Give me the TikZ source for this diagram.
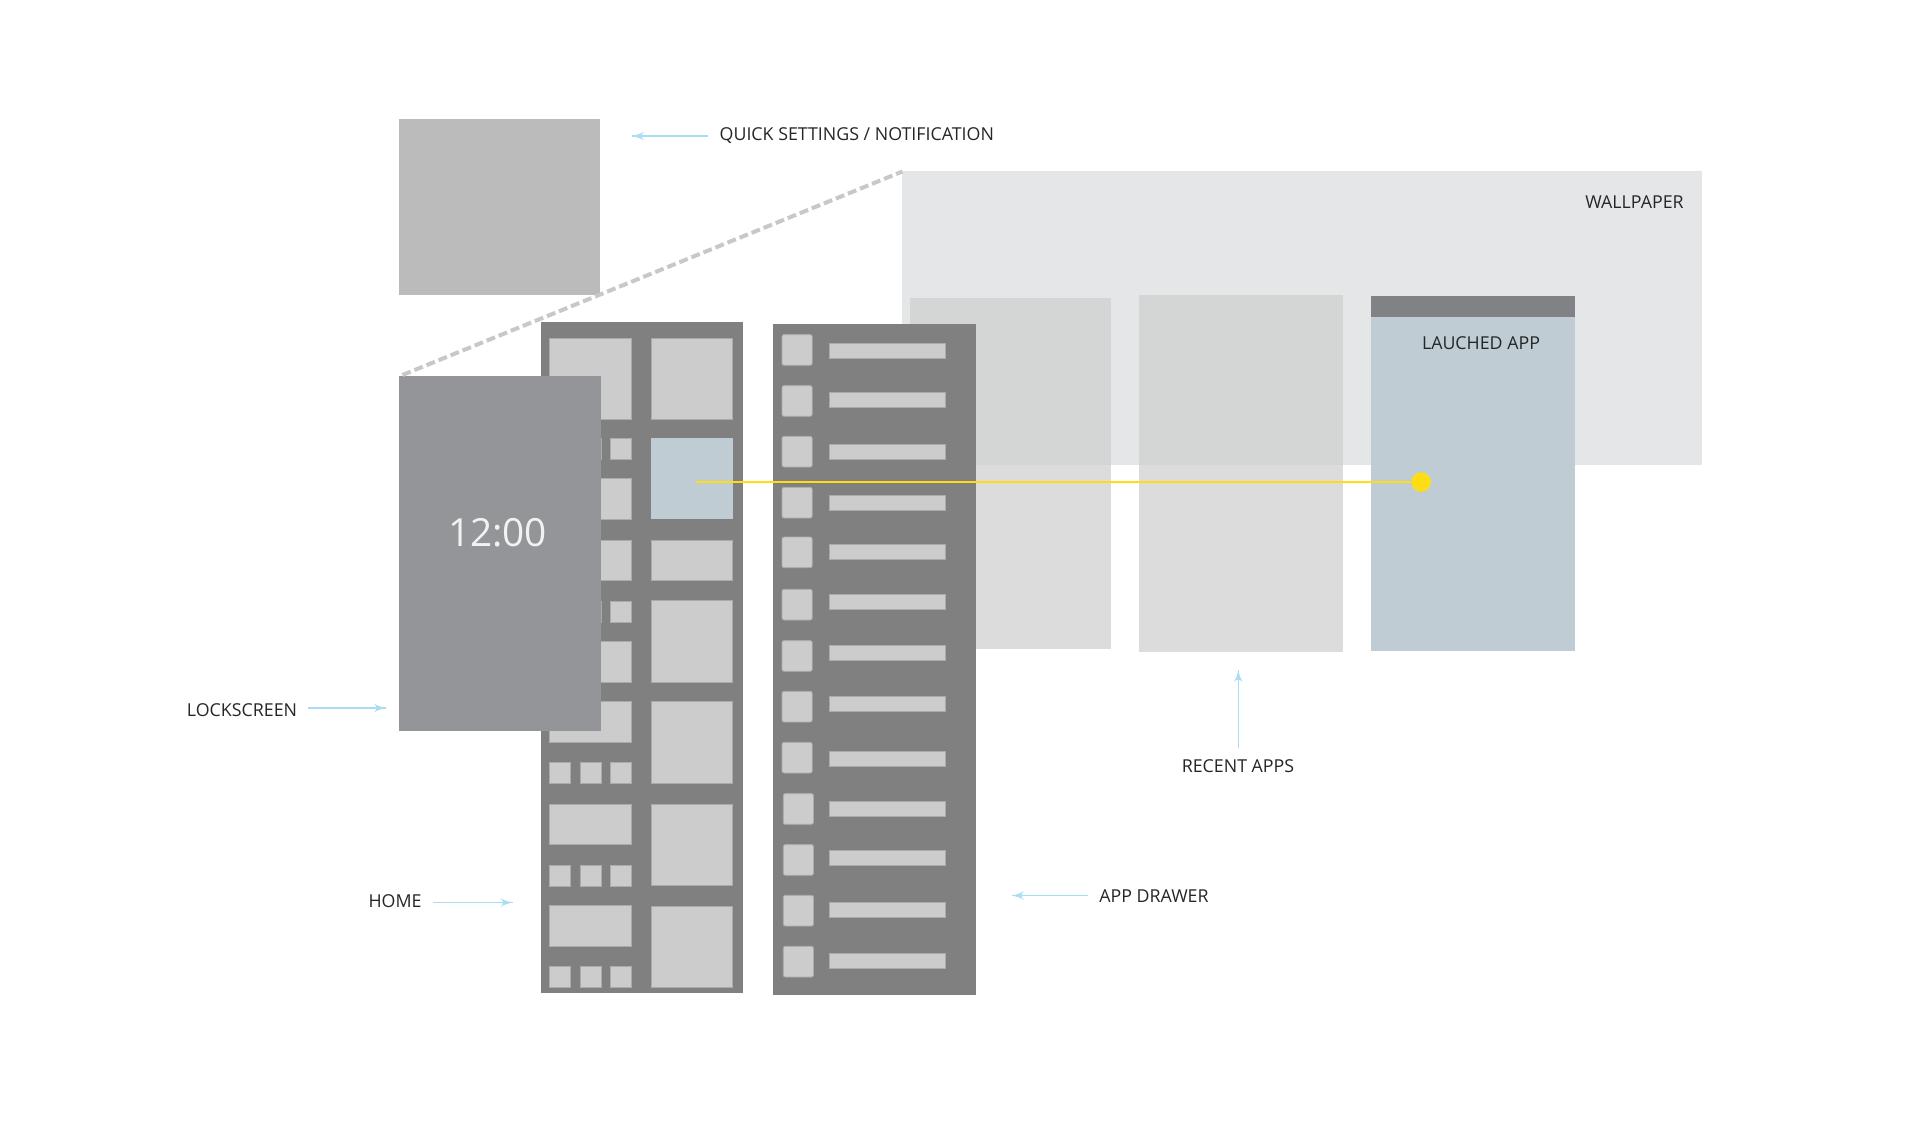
\documentclass[tikz,border=0pt]{standalone}
\usepackage{fontspec}
\setmainfont{Open Sans}
\usetikzlibrary{arrows}
\usetikzlibrary{decorations.markings}
\usetikzlibrary{positioning}
\definecolor{panelgray}{HTML}{808080}
\definecolor{tilegray}{HTML}{CCCCCC}
\definecolor{tileedge}{HTML}{ABABAB}
\definecolor{lockgray}{HTML}{939598}
\definecolor{quickgray}{HTML}{BBBBBB}
\definecolor{wallgray}{HTML}{E5E6E7}
\definecolor{cardgray}{HTML}{DCDCDC}
\definecolor{carddark}{HTML}{D4D6D5}
\definecolor{appblue}{HTML}{BFCCD4}
\definecolor{barhead}{HTML}{808285}
\definecolor{launchyellow}{HTML}{FFDD14}
\definecolor{pointerblue}{HTML}{A9DDF4}
\definecolor{dashgray}{HTML}{C8C8C8}
\definecolor{labeltext}{HTML}{262626}
\tikzset{tile/.style = {fill=tilegray, draw=tileedge, line width=0.4pt}}
\tikzset{pointer/.style = {draw=pointerblue, line width=0.7pt,
                           decoration={markings,
                                       mark=at position 1 with {\arrow[scale=1.2]{latex'}}},
                           postaction={decorate}}}
\tikzset{caption/.style = {font=\fontsize{8.9}{11}\selectfont, text=labeltext, inner sep=5.5pt}}

\begin{document}
\begin{tikzpicture}[x=0.5pt, y=-0.5pt]
    \useasboundingbox (0, 0) rectangle (1920, 1120);
    \fill [white] (0, 0) rectangle (1920, 1120);

    \fill [quickgray] (399, 119) rectangle (599.6, 295);
    \fill [wallgray] (902.4, 171) rectangle (1702, 465);

    \fill [cardgray] (910, 297.5) rectangle (1110.5, 649);
    \fill [carddark] (910, 297.5) rectangle (1110.5, 465);
    \fill [cardgray] (1139, 295) rectangle (1343, 652);
    \fill [carddark] (1139, 295) rectangle (1343, 465);
    \fill [appblue] (1371, 295.5) rectangle (1575, 651);
    \fill [barhead] (1371, 295.5) rectangle (1575, 317);

    \fill [panelgray] (773, 323.5) rectangle (976, 994.5);
    \foreach \top/\shift in {334.6/0, 385.6/0, 436.3/0, 487.3/0, 537/0, 589.3/0, 640.6/0,
                             691.3/0, 742.3/0, 793.6/1.3, 844.6/1.3, 895.3/1.3, 946.3/1.3}
        \draw [tile, rounded corners=1pt] (782+\shift, \top) rectangle ++(30.2, 30.7);
    \foreach \mid in {350.6, 400, 451.6, 503, 552.3, 601.6, 653, 704.3, 759.3, 809,
                      858, 909.6, 961}
        \draw [tile] (829, \mid-7.5) rectangle (945.7, \mid+7.5);

    \fill [panelgray] (541, 322) rectangle (743.3, 993);
    \foreach \top/\bot in {338/419, 478.3/519, 540/580.7, 641.3/682, 701.3/742,
                           804/844.6, 905.6/946.3}
        \draw [tile] (549.4, \top) rectangle (631.4, \bot);
    \foreach \top in {438, 601, 762.5, 865, 966.5}
        \foreach \left in {549.4, 580, 610.2}
            \draw [tile] (\left, \top) rectangle ++(21.2, 21);
    \foreach \top/\bot in {338/419, 540/580.7, 600.3/682, 701.7/783, 804.3/885.7, 906/987.3}
        \draw [tile] (651, \top) rectangle (732.7, \bot);
    \fill [appblue] (651, 438) rectangle (732.7, 519);

    \fill [lockgray] (398.6, 376.3) rectangle (600.8, 731);
    \node (clockLabel) at (497.6, 532.5) [font=\fontsize{19.4}{24}\selectfont, text=white!88!lockgray, inner sep=0pt] {12:00};

    \draw [dashgray, line width=2pt, dash pattern=on 4.5pt off 2pt] (402.4, 375) -- (902.4, 171.5);

    \coordinate (launchStart) at (696.3, 482);
    \node (launchDot) at (1421.2, 482) [circle, fill=launchyellow, inner sep=0pt, minimum size=9.75pt] {};
    \draw [launchyellow, line width=1.2pt] (launchStart) -- (launchDot);

    \node (quickLabel) at (856.8, 135.5) [caption] {QUICK SETTINGS / NOTIFICATION};
    \node (wallLabel) at (1634.5, 202.5) [caption] {WALLPAPER};
    \node (launchedLabel) at (1481, 343) [caption] {LAUCHED APP};
    \node (lockLabel) at (242, 710) [caption] {LOCKSCREEN};
    \node (homeLabel) at (395, 901) [caption] {HOME};
    \node (drawerLabel) at (1154, 896) [caption] {APP DRAWER};
    \node (recentLabel) at (1238, 766) [caption] {RECENT APPS};

    \coordinate (quickTip) at (632, 136);
    \coordinate (lockTip) at (386, 708);
    \coordinate (homeTip) at (512.5, 902.5);
    \coordinate (drawerTip) at (1012, 895.5);
    \coordinate (recentTip) at (1238.3, 670);
    \draw [pointer] (quickLabel.west |- quickTip) -- (quickTip);
    \draw [pointer] (lockLabel.east |- lockTip) -- (lockTip);
    \draw [pointer] (homeLabel.east |- homeTip) -- (homeTip);
    \draw [pointer] (drawerLabel.west |- drawerTip) -- (drawerTip);
    \draw [pointer] (recentLabel.north -| recentTip) -- (recentTip);
\end{tikzpicture}
\end{document}
